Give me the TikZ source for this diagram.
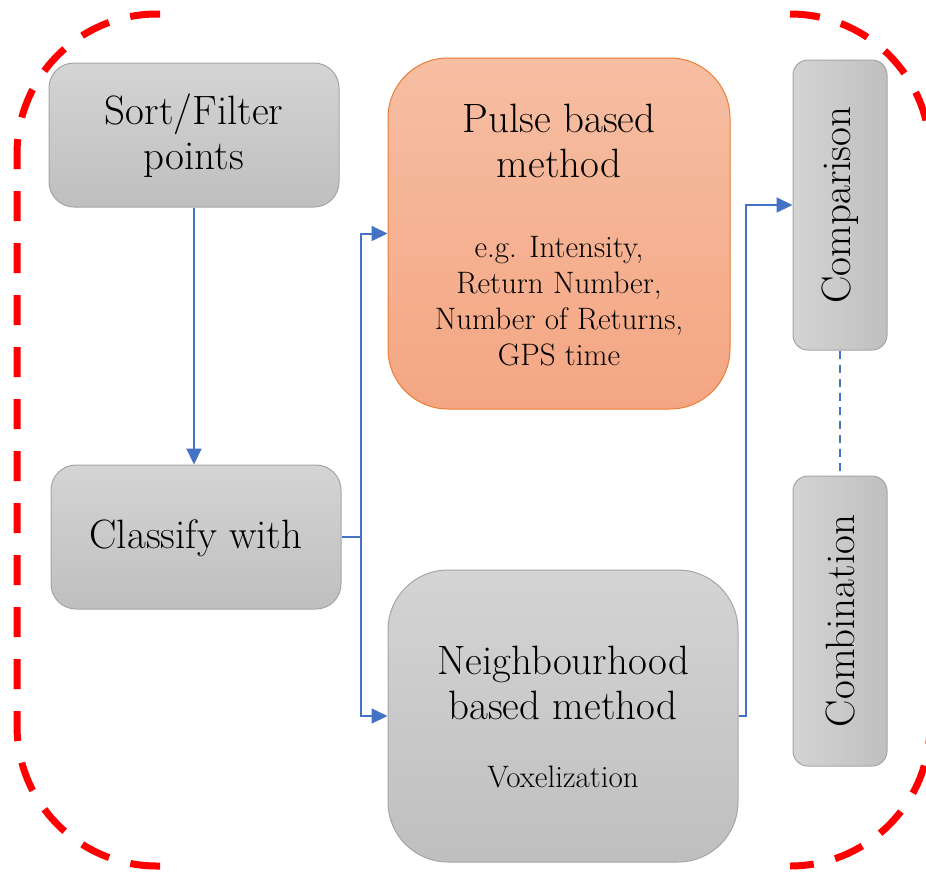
\documentclass[tikz,border=0pt]{standalone}
\usetikzlibrary{arrows.meta}
\definecolor{gtop}{HTML}{D4D4D4}
\definecolor{gbot}{HTML}{BFBFBF}
\definecolor{gline}{HTML}{A5A5A5}
\definecolor{otop}{HTML}{F6BEA3}
\definecolor{obot}{HTML}{F4A683}
\definecolor{oline}{HTML}{ED7D31}
\definecolor{conn}{HTML}{4472C4}
\begin{document}
\begin{tikzpicture}[x=1pt,y=-1pt,
  graybox/.style={draw=gline,line width=1pt,top color=gtop,bottom color=gbot,inner sep=0pt},
  sidebox/.style={draw=gline,line width=1pt,left color=gtop,right color=gbot,inner sep=0pt,rounded corners=15pt,minimum width=94pt,minimum height=290pt},
  pulsebox/.style={draw=oline,line width=1pt,top color=otop,bottom color=obot,inner sep=0pt},
  bigtxt/.style={font=\fontsize{41}{45}\selectfont,align=center,inner sep=0pt},
  smalltxt/.style={font=\fontsize{31}{36}\selectfont,align=center,inner sep=0pt},
  arr/.style={draw=conn,line width=2pt,-{Triangle[length=16pt,width=15pt]}},
  conline/.style={draw=conn,line width=2pt},
  redbr/.style={draw=red,line width=7pt,dash pattern=on 30pt off 22pt,rounded corners=140pt}
]
\useasboundingbox (0,0) rectangle (926,873);
% red dashed brackets
\draw[redbr] (160,14) -- (17,14) -- (17,866) -- (160,866);
\draw[redbr] (790,14) -- (930,14) -- (930,866) -- (790,866);
% boxes
\node[graybox,rounded corners=25pt,minimum width=290pt,minimum height=144pt] (sort) at (194,135) {};
\node[graybox,rounded corners=25pt,minimum width=290pt,minimum height=144pt] (classify) at (196,537) {};
\node[pulsebox,rounded corners=60pt,minimum width=342pt,minimum height=351pt] (pulse) at (559,233.5) {};
\node[graybox,rounded corners=60pt,minimum width=350pt,minimum height=292pt] (neigh) at (563,716) {};
\node[sidebox] (comp) at (840,205) {};
\node[sidebox] (comb) at (840,621) {};
% texts
\node[bigtxt] (tsort) at (194,136) {Sort/Filter\\points};
\node[bigtxt] (tclass) at (196,538) {Classify with};
\node[bigtxt] (tpulse) at (559,141) {Pulse based\\method};
\node[smalltxt] (tpulse2) at (559,301) {e.g. Intensity,\\Return Number,\\Number of Returns,\\GPS time};
\node[bigtxt] (tneigh) at (563,683) {Neighbourhood\\based method};
\node[smalltxt] (tvox) at (563,777) {Voxelization};
\node[bigtxt,rotate=90] (tcomp) at (840,205) {Comparison};
\node[bigtxt,rotate=90] (tcomb) at (840,621) {Combination};
% connectors
\draw[arr] (sort.south) -- (sort.south |- classify.north);
\coordinate (j) at (361,537);
\draw[conline] (classify.east) -- (j);
\draw[arr] (j) |- (pulse.west);
\draw[arr] (j) |- (neigh.west);
\draw[arr] (neigh.east) -- ++(7,0) |- (comp.west);
\draw[draw=conn,line width=1.5pt,dash pattern=on 8pt off 6pt] (comp.south) -- (comb.north);
\end{tikzpicture}
\end{document}
